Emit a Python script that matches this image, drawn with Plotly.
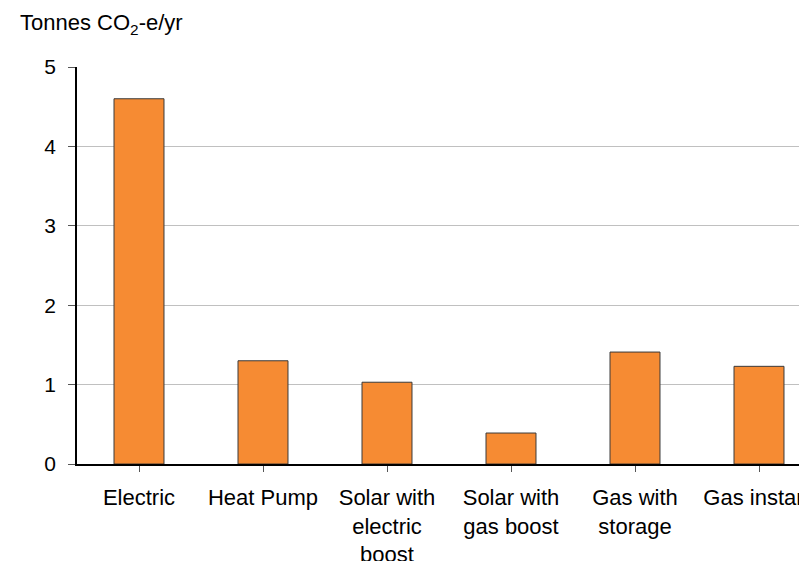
import plotly.graph_objects as go

categories = ["Electric", "Heat Pump", "Solar with<br>electric<br>boost", "Solar with<br>gas boost",
              "Gas with<br>storage", "Gas instant"]
values = [4.6, 1.3, 1.03, 0.39, 1.41, 1.23]
y_ticks = [0, 1, 2, 3, 4, 5]

# page body has an 8px default margin; compensate so the plot lands where the reference has it
OFF = 8
W, H = 807, 561
ml, mt = 77 - OFF, 67 - OFF
mr = OFF
pw = W - ml - mr            # 730
ph = 397
mb = H - mt - ph

fig = go.Figure()
fig.add_trace(go.Bar(
    x=list(range(len(categories))), y=values, width=0.403,
    marker=dict(color="#F68B33", line=dict(color="#3a3a3a", width=1)),
))

fig.update_layout(
    width=W, height=H,
    margin=dict(l=ml, r=mr, t=mt, b=mb, pad=0, autoexpand=False),
    paper_bgcolor="white", plot_bgcolor="white",
    font=dict(family="Liberation Sans, Arial, sans-serif", size=22, color="#000000"),
    showlegend=False,
    xaxis=dict(
        range=[-0.5, -0.5 + pw / 124.0],
        tickmode="array", tickvals=list(range(len(categories))), ticktext=categories,
        tickson="boundaries", ticks="outside", ticklen=6, tickcolor="#555555",
        showline=True, linecolor="#000000", linewidth=1.5,
        showgrid=False, zeroline=False, tickfont=dict(size=22),
        ticklabelstandoff=7, ticklabeloverflow="allow", tickangle=0, automargin=False,
    ),
    yaxis=dict(
        range=[0, 5], tickvals=y_ticks,
        ticks="outside", ticklen=7, tickcolor="#555555",
        showline=True, linecolor="#000000", linewidth=1.5,
        showgrid=True, gridcolor="#c0c0c0", gridwidth=1,
        zeroline=False, tickfont=dict(size=21), ticklabelstandoff=8, automargin=False,
    ),
    annotations=[dict(
        text="Tonnes CO<sub>2</sub>-e/yr", xref="paper", yref="paper",
        x=(18 - OFF - ml) / pw, y=1 + (mt - (24 - OFF)) / ph, xanchor="left", yanchor="middle",
        showarrow=False, font=dict(size=22),
    )],
)

fig.write_html("out.html")
